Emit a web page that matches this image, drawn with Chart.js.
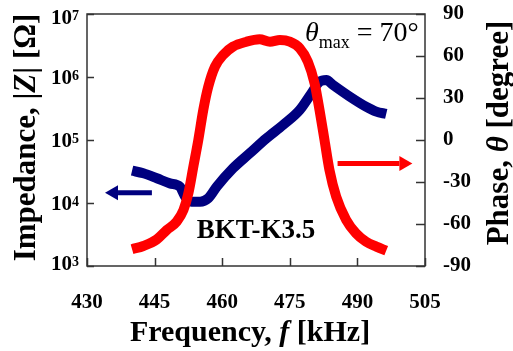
<!DOCTYPE html>
<html>
<head>
<meta charset="UTF-8">
<title>BKT-K3.5 impedance and phase</title>
<script src="https://cdn.jsdelivr.net/npm/chart.js"></script>
<style>
  html, body { margin: 0; padding: 0; background: #fff; }
</style>
</head>
<body>
<canvas id="myChart" width="513" height="351"></canvas>
<script>
// values
const freqZ = [440, 442.5, 445.5, 448.4, 450.6, 451.8, 453.2, 455.1, 456.9, 458.8, 462.4, 466.1,
  469.8, 473.5, 477.2, 479.8, 481.6, 483.1, 484.6, 488.3, 491.9, 494.2, 496.4];
const impedance = [32600, 29600, 24700, 20500, 18200, 12600, 10500, 10500, 11900, 18200, 35500, 61400,
  106000, 173000, 299000, 551000, 843000, 895000, 746000, 488000, 338000, 282000, 259000];

const freqPhase = [440, 442.5, 445.5, 447.7, 449.9, 451.4, 452.5, 453.6, 454.7, 455.8, 456.9, 458.4,
  460.2, 462.4, 465.4, 468.3, 470.6, 472.8, 475.0, 477.2, 479.0, 480.5, 481.6, 482.7, 483.8, 485.3,
  487.5, 489.7, 491.9, 494.2, 496.4];
const phase = [-78, -75.7, -71, -64.3, -58.3, -50, -38, -19, 0, 21.4, 38, 52.4,
  60.7, 66.7, 70.2, 71.9, 70.2, 71.4, 70.2, 65.5, 56, 40.5, 21.4, 0, -21.4, -40.5,
  -57, -66.7, -72.6, -76.2, -79];

const freqTicks = [430, 445, 460, 475, 490, 505];
const zTicks = [1e3, 1e4, 1e5, 1e6, 1e7];
const phaseTicks = [-90, -60, -30, 0, 30, 60, 90];

const serif = "'Liberation Serif', 'Times New Roman', serif";

function fixTicks(list) {
  return function (scale) {
    scale.ticks = list.map(v => ({ value: v }));
  };
}

// fixed box sizes so the plot area lands where the picture has it
function fitTo(w, h) {
  return function (s) {
    if (w != null) s.width = w;
    if (h != null) s.height = h;
    s.paddingTop = 0; s.paddingBottom = 0; s.paddingLeft = 0; s.paddingRight = 0;
  };
}

// draw a run of text pieces with different fonts
function drawParts(ctx, parts, x, y, align) {
  let total = 0;
  parts.forEach(p => { ctx.font = p.font; p.w = ctx.measureText(p.t).width; total += p.w; });
  let cx = align === 'center' ? x - total / 2 : x;
  ctx.textAlign = 'left';
  ctx.textBaseline = 'alphabetic';
  parts.forEach(p => {
    ctx.font = p.font;
    ctx.fillText(p.t, cx, y + (p.dy || 0));
    cx += p.w;
  });
}

function arrow(ctx, x1, x2, y, color) {
  const dir = Math.sign(x2 - x1);
  const head = 13;
  ctx.strokeStyle = color;
  ctx.fillStyle = color;
  ctx.lineWidth = 5;
  ctx.beginPath();
  ctx.moveTo(x1, y);
  ctx.lineTo(x2 - dir * head, y);
  ctx.stroke();
  ctx.beginPath();
  ctx.moveTo(x2, y);
  ctx.lineTo(x2 - dir * head, y - 7.5);
  ctx.lineTo(x2 - dir * head, y + 7.5);
  ctx.closePath();
  ctx.fill();
}

const decor = {
  id: 'decor',
  afterDraw(chart) {
    const { ctx, chartArea: a, scales } = chart;
    ctx.save();

    // frame and inward ticks
    ctx.strokeStyle = '#333';
    ctx.lineWidth = 1.5;
    ctx.strokeRect(a.left, a.top, a.right - a.left, a.bottom - a.top);
    ctx.beginPath();
    freqTicks.forEach(v => {
      const px = Math.round(scales.x.getPixelForValue(v)) + 0.5;
      ctx.moveTo(px, a.bottom); ctx.lineTo(px, a.bottom - 8);
    });
    zTicks.forEach(v => {
      const py = Math.round(scales.y.getPixelForValue(v)) + 0.5;
      ctx.moveTo(a.left, py); ctx.lineTo(a.left + 7, py);
    });
    phaseTicks.forEach(v => {
      const py = Math.round(scales.y1.getPixelForValue(v)) + 0.5;
      ctx.moveTo(a.right, py); ctx.lineTo(a.right - 9, py);
    });
    ctx.stroke();

    // left tick labels 10^n
    ctx.fillStyle = '#000';
    zTicks.forEach(v => {
      let py = scales.y.getPixelForValue(v);
      py = Math.min(Math.max(py, a.top + 3), a.bottom - 3);
      const exp = String(Math.round(Math.log10(v)));
      ctx.font = 'bold 21px ' + serif;
      ctx.textAlign = 'right';
      ctx.textBaseline = 'alphabetic';
      ctx.fillText('10', a.left - 15, py + 7);
      ctx.font = 'bold 14px ' + serif;
      ctx.textAlign = 'left';
      ctx.fillText(exp, a.left - 15, py + 3);
    });

    // axis titles
    ctx.save();
    ctx.translate(35, 137.5);
    ctx.rotate(-Math.PI / 2);
    drawParts(ctx, [
      { t: 'Impedance, |', font: 'bold 31px ' + serif },
      { t: 'Z', font: 'italic bold 31px ' + serif },
      { t: '| [Ω]', font: 'bold 31px ' + serif }
    ], 0, 0, 'center');
    ctx.restore();

    ctx.save();
    ctx.translate(508, 133);
    ctx.rotate(-Math.PI / 2);
    drawParts(ctx, [
      { t: 'Phase, ', font: 'bold 31px ' + serif },
      { t: 'θ', font: 'italic bold 31px ' + serif },
      { t: ' [degree]', font: 'bold 31px ' + serif }
    ], 0, 0, 'center');
    ctx.restore();

    drawParts(ctx, [
      { t: 'Frequency, ', font: 'bold 30px ' + serif },
      { t: 'f', font: 'italic bold 30px ' + serif },
      { t: ' [kHz]', font: 'bold 30px ' + serif }
    ], 250, 341, 'center');

    // annotations
    drawParts(ctx, [
      { t: 'θ', font: 'italic 28px ' + serif },
      { t: 'max', font: '18px ' + serif, dy: 7 },
      { t: ' = 70°', font: '28px ' + serif }
    ], 305, 41, 'left');

    ctx.font = 'bold 27px ' + serif;
    ctx.textAlign = 'center';
    ctx.textBaseline = 'alphabetic';
    ctx.fillText('BKT-K3.5', 256, 238);

    const yb = scales.y.getPixelForValue(14600);
    arrow(ctx, scales.x.getPixelForValue(444.4), scales.x.getPixelForValue(434), yb, '#00007f');
    const yr = scales.y1.getPixelForValue(-16.7);
    arrow(ctx, scales.x.getPixelForValue(485.6), scales.x.getPixelForValue(502.2), yr, '#ff0000');

    ctx.restore();
  }
};

const tickFont = { family: serif, size: 21, weight: 'bold' };

new Chart(document.getElementById('myChart'), {
  type: 'line',
  data: {
    datasets: [{
      label: 'Phase',
      data: freqPhase.map((f, i) => ({ x: f, y: phase[i] })),
      yAxisID: 'y1',
      borderColor: '#ff0000',
      borderWidth: 10,
      pointRadius: 0,
      cubicInterpolationMode: 'monotone'
    }, {
      label: '|Z|',
      data: freqZ.map((f, i) => ({ x: f, y: impedance[i] })),
      yAxisID: 'y',
      borderColor: '#00007f',
      borderWidth: 10,
      pointRadius: 0,
      cubicInterpolationMode: 'monotone'
    }]
  },
  options: {
    responsive: false,
    animation: false,
    devicePixelRatio: 1,
    layout: { padding: { top: 14, left: 0, right: 0, bottom: 0 } },
    plugins: { legend: { display: false }, tooltip: { enabled: false } },
    scales: {
      x: {
        type: 'linear', position: 'bottom', min: 430, max: 505,
        afterBuildTicks: fixTicks(freqTicks),
        afterFit: fitTo(null, 85),
        grid: { display: false, drawTicks: false },
        border: { display: false },
        ticks: { font: tickFont, color: '#000', padding: 24, maxRotation: 0, autoSkip: false }
      },
      y: {
        type: 'logarithmic', position: 'left', min: 1e3, max: 1e7,
        afterBuildTicks: fixTicks(zTicks),
        afterFit: fitTo(87, null),
        grid: { display: false, drawTicks: false },
        border: { display: false },
        ticks: { display: false }
      },
      y1: {
        type: 'linear', position: 'right', min: -90, max: 90,
        afterBuildTicks: fixTicks(phaseTicks),
        afterFit: fitTo(88, null),
        grid: { display: false, drawTicks: false },
        border: { display: false },
        ticks: { font: tickFont, color: '#000', padding: 18, autoSkip: false }
      }
    }
  },
  plugins: [decor]
});
</script>
</body>
</html>
